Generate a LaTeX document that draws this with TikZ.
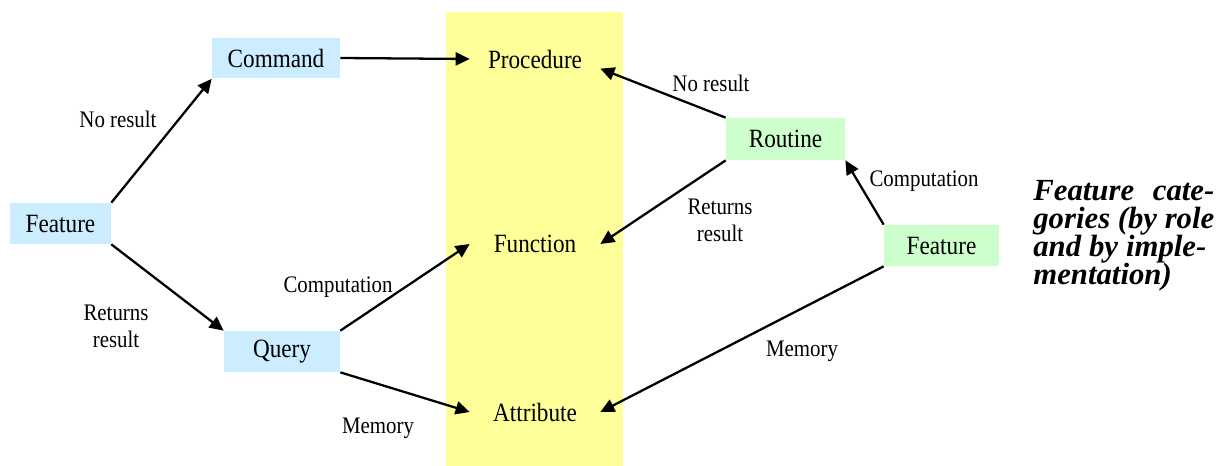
\documentclass[tikz,border=0pt]{standalone}
\usepackage{fontspec}
\setmainfont{Liberation Serif}[FakeStretch=0.88]
\newfontfamily\notefont{Liberation Serif}
\usetikzlibrary{arrows.meta,calc}
\definecolor{roleblue}{HTML}{CCECFF}
\definecolor{implgreen}{HTML}{CCFFCC}
\definecolor{bandyellow}{HTML}{FFFF99}

\begin{document}
\begin{tikzpicture}[
    x=0.02cm, y=-0.02cm,
    line join=round,
    >={Triangle[length=8pt,width=7.5pt]},
    every node/.style={inner sep=0pt},
    rolebox/.style={fill=roleblue, minimum height=0.82cm, font=\fontsize{15}{16}\selectfont},
    implbox/.style={fill=implgreen, minimum height=0.84cm, font=\fontsize{15}{16}\selectfont},
    catnode/.style={minimum width=2.6cm, minimum height=0.32cm, font=\fontsize{15}{16}\selectfont},
    lbl/.style={align=center, font=\fontsize{13.5}{15.3}\selectfont},
    flow/.style={->, line width=1.3pt}
]
\useasboundingbox (0,0) rectangle (1226,466);

% the band of categories
\fill[bandyellow] (446,12) rectangle (623,466);

% by role
\node[rolebox, minimum width=2.02cm] (feat1) at (60.5,223.5) {Feature};
\node[rolebox, minimum width=2.56cm] (cmd) at (276,58) {Command};
\node[rolebox, minimum width=2.32cm] (qry) at (282,351.5) {Query};

% categories
\node[catnode] (proc) at (535,59) {Procedure};
\node[catnode] (func) at (535,244) {Function};
\node[catnode] (attr) at (535,412) {Attribute};

% by implementation
\node[implbox, minimum width=2.38cm] (rout) at (785.5,139) {Routine};
\node[implbox, minimum width=2.3cm, minimum height=0.82cm] (feat2) at (941.5,245.5) {Feature};

% edge labels
\node[lbl] (noresL) at (118,119) {No result};
\node[lbl] (retresL) at (116,326) {Returns\\result};
\node[lbl] (compL) at (338,287) {Computation};
\node[lbl] (memL) at (378,428) {Memory};
\node[lbl] (noresR) at (711,83) {No result};
\node[lbl] (retresR) at (720,220) {Returns\\result};
\node[lbl] (compR) at (924,181) {Computation};
\node[lbl] (memR) at (802,351) {Memory};

% caption
\node[anchor=north west, align=left,
      font=\notefont\fontsize{17.5}{16}\selectfont\bfseries\itshape] (note) at (1033,180)
  {\makebox[3.62cm][s]{Feature cate-}\\
   \makebox[3.62cm][s]{gories (by role}\\
   \makebox[3.46cm][s]{and by imple-}\\
   mentation)};

% Flow arrows
\draw[flow] (feat1.north east) -- (cmd.south west);
\draw[flow] (feat1.south east) -- (qry.north west);
\draw[flow] (cmd.east) -- (proc.west);
\draw[flow] (qry.north east) -- (func.west);
\draw[flow] (qry.south east) -- (attr.west);
\draw[flow] (rout.north west) -- (proc.south east);
\draw[flow] (rout.south west) -- (func.east);
\draw[flow] (feat2.north west) -- (rout.south east);
\draw[flow] (feat2.south west) -- (attr.east);

\end{tikzpicture}
\end{document}
